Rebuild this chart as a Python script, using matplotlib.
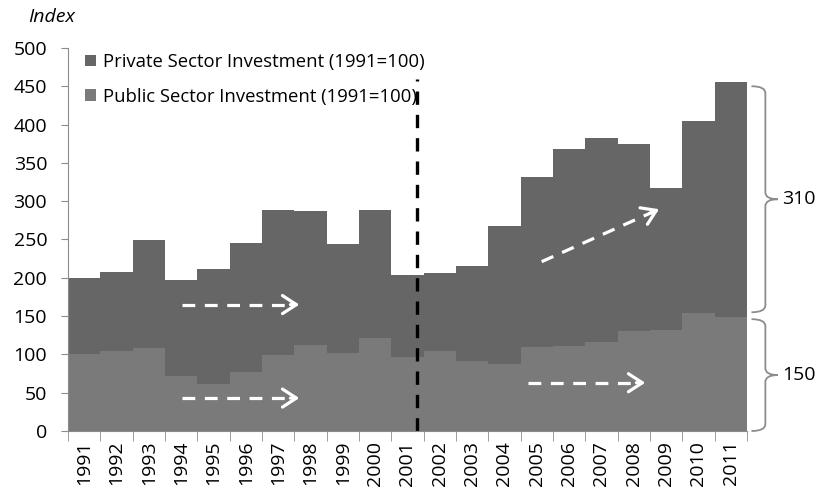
import numpy as np
import matplotlib
matplotlib.use('Agg')
import matplotlib.pyplot as plt
from matplotlib.path import Path
from matplotlib.patches import PathPatch

plt.rcParams['font.family'] = ['Open Sans', 'DejaVu Sans']

years = [str(y) for y in range(1991, 2012)]
public = [100, 105, 108, 72, 62, 77, 99, 112, 102, 122, 96,
          104, 92, 87, 110, 111, 116, 131, 132, 154, 149]
total = [200, 207, 249, 197, 212, 246, 288, 287, 244, 288, 203,
         206, 215, 267, 331, 368, 383, 374, 317, 405, 456]
private = [t - p for t, p in zip(total, public)]

brace_labels = ['310', '150']

col_priv = '#666666'
col_pub = '#7a7a7a'
grey = '#8c8c8c'


def brace(ax, top, bottom, x0=20.64, xm=21.07, xt=21.45, r=9):
    mid = (top + bottom) / 2.0
    verts = [(x0, top), (xm, top), (xm, top - r),
             (xm, mid + r),
             (xm, mid), (xt, mid),
             (xm, mid), (xm, mid - r),
             (xm, bottom + r),
             (xm, bottom), (x0, bottom)]
    codes = [Path.MOVETO, Path.CURVE3, Path.CURVE3,
             Path.LINETO,
             Path.CURVE3, Path.CURVE3,
             Path.CURVE3, Path.CURVE3,
             Path.LINETO,
             Path.CURVE3, Path.CURVE3]
    ax.add_patch(PathPatch(Path(verts, codes), fill=False, ec=grey, lw=1.3,
                           clip_on=False))
    return mid


def dashed_arrow(ax, x0, y0, x1, y1):
    # shaft stops a bit short so the open head stays clean
    dx, dy = x1 - x0, y1 - y0
    ax.plot([x0, x1 - 0.08 * dx], [y0, y1 - 0.08 * dy], color='white', lw=2.3,
            ls=(0, (4, 3)), solid_capstyle='butt')
    ax.annotate('', xy=(x1, y1), xytext=(x1 - 0.12 * dx, y1 - 0.12 * dy),
                arrowprops=dict(arrowstyle='->,head_length=1.0,head_width=0.65',
                                color='white', lw=2.3))


def main():
    fig = plt.figure(figsize=(8.26, 4.94), dpi=100)
    ax = fig.add_axes([0.0823, 0.1275, 0.822, 0.7755])

    x = np.arange(len(years))
    ax.bar(x, private, width=1.0, bottom=public, color=col_priv,
           label='Private Sector Investment (1991=100)')
    ax.bar(x, public, width=1.0, color=col_pub,
           label='Public Sector Investment (1991=100)')

    ax.set_xlim(-0.5, len(years) - 0.5)
    ax.set_ylim(0, 500)
    ax.set_yticks(range(0, 501, 50))
    ax.tick_params(axis='y', labelsize=14, length=5, color=grey, pad=10)
    ax.set_xticks(x)
    ax.set_xticklabels(years, rotation=90, fontsize=14)
    ax.set_xticks(np.arange(-0.5, len(years)), minor=True)
    ax.tick_params(axis='x', which='major', length=0, pad=7)
    ax.tick_params(axis='x', which='minor', length=7, color=grey)

    for s in ['top', 'right']:
        ax.spines[s].set_visible(False)
    for s in ['left', 'bottom']:
        ax.spines[s].set_color(grey)

    # structural break
    ax.plot([10.3, 10.3], [0, 460], color='black', lw=2.4, ls=(0, (4, 3)),
            clip_on=False)

    dashed_arrow(ax, 3.03, 165, 6.74, 165)
    dashed_arrow(ax, 3.03, 43, 6.74, 43)
    dashed_arrow(ax, 14.15, 221, 17.86, 291)
    dashed_arrow(ax, 13.73, 63, 17.44, 63)

    m1 = brace(ax, 450, 155)
    m2 = brace(ax, 146, 0)
    ax.text(21.6, m1, brace_labels[0], fontsize=14, va='center', ha='left')
    ax.text(21.6, m2, brace_labels[1], fontsize=14, va='center', ha='left')

    ax.legend(loc='upper left', bbox_to_anchor=(0.0, 1.03), frameon=False,
              fontsize=13.3, handlelength=0.6, handleheight=0.6,
              handletextpad=0.4, labelspacing=0.9)

    fig.text(0.034, 0.965, 'Index', fontsize=14, style='italic', va='center')

    fig.savefig('out.png', dpi=100)


if __name__ == "__main__":
    main()
